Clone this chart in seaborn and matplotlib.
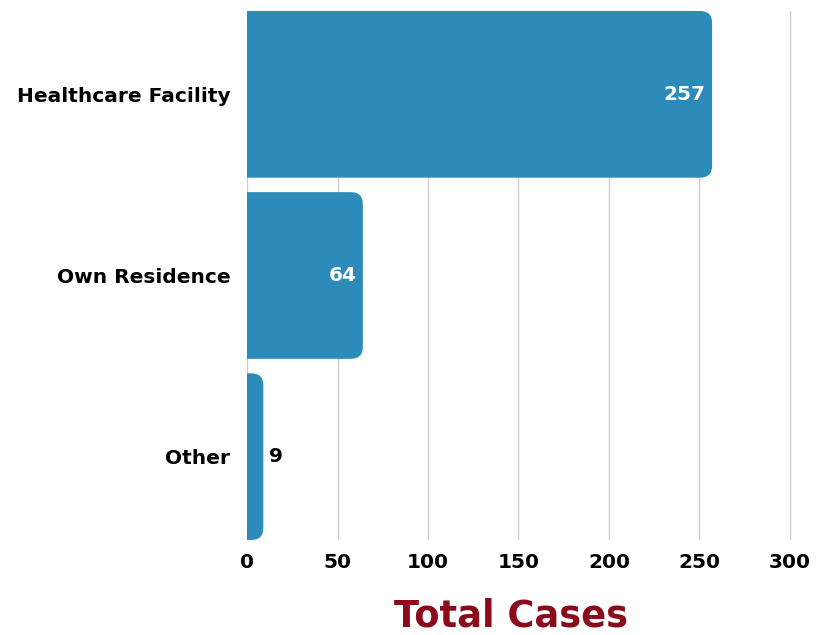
import matplotlib
matplotlib.use("Agg")
import matplotlib.pyplot as plt
import pandas as pd
import seaborn as sns
from matplotlib.patches import FancyBboxPatch

categories = ["Healthcare Facility", "Own Residence", "Other"]
cases = [257, 64, 9]
x_ticks = [0, 50, 100, 150, 200, 250, 300]

BAR_COLOR = "#2d8bba"
TITLE_COLOR = "#8b0a1c"
FONT = ["DejaVu Sans"]

df = pd.DataFrame({"Place": categories, "Cases": cases})

sns.set_style("white")
plt.rcParams["font.family"] = FONT

fig = plt.figure(figsize=(8.24, 6.35), dpi=100)
ax = fig.add_axes([0.2998, 0.1496, 0.683, 0.8331])

sns.barplot(data=df, x="Cases", y="Place", orient="h", color=BAR_COLOR,
            width=0.92, saturation=1, ax=ax, zorder=3)

ax.set_xlim(0, 311)
ax.set_ylim(2.46, -0.46)

# px per data unit, so the round corners come out the same size in px
px_x = 0.683 * 824 / 311
px_y = 0.8331 * 635 / 2.92
radius_px = 12
r = radius_px / px_x

for p in list(ax.patches):
    x, y = p.get_x(), p.get_y()
    w, h = p.get_width(), p.get_height()
    p.set_visible(False)
    # start the box left of 0 so the axes clip the left corners square
    ax.add_patch(FancyBboxPatch((x - 3 * r, y), w + 3 * r, h,
                                boxstyle=f"round,pad=0,rounding_size={r}",
                                mutation_aspect=px_x / px_y,
                                facecolor=BAR_COLOR, edgecolor="none", zorder=3))

# value labels
for i, v in enumerate(cases):
    if v > 30:
        ax.text(v - 3.5, i, str(v), ha="right", va="center", color="white",
                fontsize=14.5, fontweight="bold", zorder=4)
    else:
        ax.text(v + 3, i, str(v), ha="left", va="center", color="black",
                fontsize=14.5, fontweight="bold", zorder=4)

ax.set_xticks(x_ticks)
ax.set_xticklabels([str(t) for t in x_ticks], fontsize=14.5, fontweight="bold",
                   color="black")
ax.tick_params(axis="x", length=0, pad=9)
ax.tick_params(axis="y", length=0, pad=12)
for lab in ax.get_yticklabels():
    lab.set_fontsize(14.5)
    lab.set_fontweight("bold")
    lab.set_color("black")

ax.grid(axis="x", color="#cccccc", linewidth=1, zorder=0)
ax.set_axisbelow(True)
for s in ax.spines.values():
    s.set_visible(False)

ax.set_ylabel("")
ax.set_xlabel("Total Cases", fontsize=26.5, fontweight="bold",
              color=TITLE_COLOR)
ax.xaxis.set_label_coords(0.469, -0.108)

fig.savefig("out.png", dpi=100)
